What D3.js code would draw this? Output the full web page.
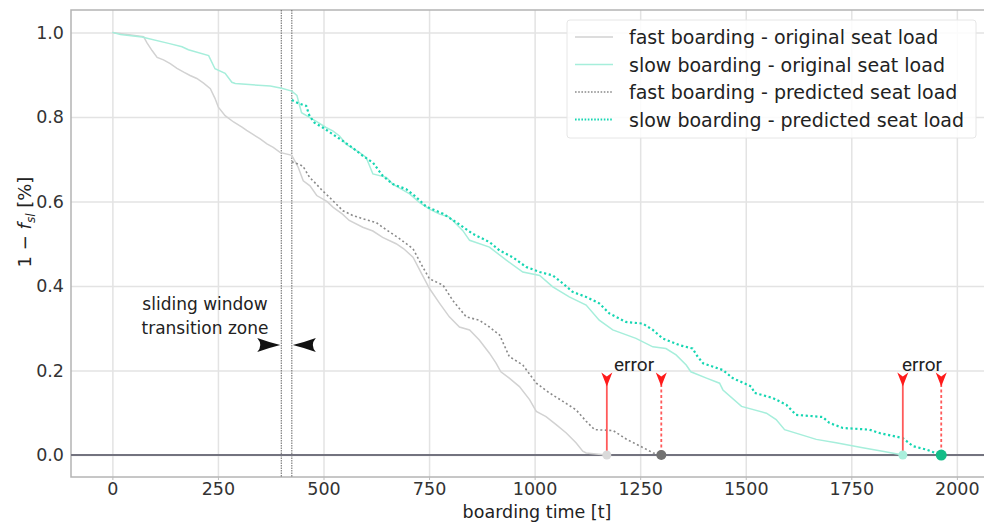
<!DOCTYPE html>
<html>
<head>
<meta charset="utf-8">
<script src="https://cdn.jsdelivr.net/npm/d3@7"></script>
<style>
  body { margin: 0; background: #fff; }
  text { font-family: "DejaVu Sans", sans-serif; }
</style>
</head>
<body>
<div id="chart"></div>
<script>
// x tick values and y tick values
const xTicks = [0, 250, 500, 750, 1000, 1250, 1500, 1750, 2000];
const yTicks = [0.0, 0.2, 0.4, 0.6, 0.8, 1.0];

// series: [boarding time, 1 - f_sl]
const fastOriginal = [
  [0, 1.0], [74, 0.99], [82, 0.975], [94, 0.957], [106, 0.941], [121, 0.935], [137, 0.926],
  [153, 0.915], [169, 0.906], [184, 0.898], [200, 0.891], [216, 0.88], [232, 0.867],
  [243, 0.844], [251, 0.823], [267, 0.803], [287, 0.788], [307, 0.776], [318, 0.768],
  [334, 0.758], [350, 0.748], [366, 0.736], [381, 0.728], [397, 0.716], [425, 0.709],
  [440, 0.681], [452, 0.649], [468, 0.637], [484, 0.614], [508, 0.6], [523, 0.586],
  [545, 0.57], [561, 0.555], [593, 0.539], [617, 0.53], [640, 0.515], [672, 0.5],
  [690, 0.488], [712, 0.468], [732, 0.43], [751, 0.394], [775, 0.359], [798, 0.327],
  [822, 0.303], [846, 0.296], [869, 0.272], [893, 0.241], [909, 0.217], [920, 0.197],
  [940, 0.182], [964, 0.162], [988, 0.131], [1004, 0.103], [1027, 0.091], [1051, 0.072],
  [1075, 0.052], [1098, 0.029], [1114, 0.009], [1122, 0.005], [1170, 0.0]
];

const slowOriginal = [
  [0, 1.0], [19, 0.995], [70, 0.989], [133, 0.974], [165, 0.966], [180, 0.959], [228, 0.945],
  [243, 0.914], [267, 0.903], [283, 0.882], [291, 0.879], [374, 0.873], [401, 0.868],
  [425, 0.861], [437, 0.851], [448, 0.81], [482, 0.79], [506, 0.775], [522, 0.767],
  [538, 0.755], [554, 0.735], [585, 0.716], [601, 0.704], [617, 0.665], [649, 0.657],
  [664, 0.641], [704, 0.618], [727, 0.598], [751, 0.582], [775, 0.57], [798, 0.563],
  [830, 0.531], [846, 0.508], [893, 0.492], [933, 0.461], [972, 0.433], [1012, 0.425],
  [1043, 0.398], [1082, 0.374], [1122, 0.355], [1153, 0.319], [1185, 0.296], [1240, 0.276],
  [1280, 0.256], [1311, 0.252], [1335, 0.237], [1359, 0.213], [1370, 0.197], [1407, 0.182],
  [1438, 0.17], [1446, 0.154], [1490, 0.115], [1549, 0.099], [1572, 0.084], [1592, 0.06],
  [1667, 0.037], [1714, 0.029], [1777, 0.017], [1824, 0.009], [1872, 0.0]
];

const fastPredicted = [
  [425, 0.694], [451, 0.684], [467, 0.657], [483, 0.641], [498, 0.625], [514, 0.61],
  [530, 0.594], [546, 0.578], [569, 0.567], [593, 0.559], [625, 0.55], [640, 0.539],
  [680, 0.512], [712, 0.488], [735, 0.445], [751, 0.417], [783, 0.402], [806, 0.366],
  [838, 0.327], [869, 0.319], [893, 0.303], [917, 0.284], [940, 0.233], [972, 0.213],
  [1004, 0.17], [1035, 0.147], [1067, 0.127], [1098, 0.107], [1122, 0.08], [1142, 0.06],
  [1186, 0.058], [1218, 0.037], [1250, 0.021], [1281, 0.005], [1300, 0.0]
];

const slowPredicted = [
  [425, 0.84], [439, 0.833], [459, 0.826], [467, 0.802], [479, 0.786], [498, 0.775],
  [522, 0.759], [546, 0.743], [569, 0.727], [593, 0.708], [617, 0.692], [640, 0.661],
  [664, 0.641], [696, 0.629], [720, 0.61], [743, 0.588], [783, 0.571], [814, 0.551],
  [854, 0.523], [893, 0.504], [917, 0.484], [948, 0.468], [980, 0.445], [1012, 0.433],
  [1043, 0.425], [1067, 0.406], [1090, 0.386], [1122, 0.374], [1153, 0.359], [1177, 0.335],
  [1216, 0.315], [1256, 0.311], [1280, 0.296], [1303, 0.276], [1343, 0.26], [1374, 0.252],
  [1386, 0.233], [1399, 0.217], [1446, 0.201], [1469, 0.182], [1513, 0.162], [1521, 0.147],
  [1564, 0.135], [1596, 0.119], [1619, 0.095], [1682, 0.09], [1698, 0.076], [1730, 0.064],
  [1793, 0.06], [1817, 0.052], [1872, 0.04], [1896, 0.021], [1927, 0.013], [1963, 0.0]
];

// end times of the four curves (original vs predicted)
const errorPairs = [
  { original: 1171, predicted: 1300 },
  { original: 1872, predicted: 1963 }
];
const windowBounds = [400, 425];

const legendItems = [
  "fast boarding - original seat load",
  "slow boarding - original seat load",
  "fast boarding - predicted seat load",
  "slow boarding - predicted seat load"
];

// --- SVG setup ---
const width = 984, height = 525;
const plot = { left: 71, top: 10, right: 1005, bottom: 477 };

const svg = d3.select("#chart")
  .append("svg")
  .attr("width", width)
  .attr("height", height);

const x = d3.scaleLinear().domain([-98, 2114]).range([plot.left, plot.right]);
const y = d3.scaleLinear().domain([-0.052, 1.053]).range([plot.bottom, plot.top]);

svg.append("defs").append("clipPath").attr("id", "clip")
  .append("rect")
  .attr("x", plot.left).attr("y", plot.top)
  .attr("width", plot.right - plot.left).attr("height", plot.bottom - plot.top);

// --- GRID ---
svg.append("g")
  .attr("transform", `translate(0,${plot.bottom})`)
  .call(d3.axisBottom(x).tickValues(xTicks).tickSize(-(plot.bottom - plot.top)).tickFormat(""))
  .call(g => g.select(".domain").remove())
  .selectAll("line").attr("stroke", "#e3e3e3").attr("stroke-width", 1.5);

svg.append("g")
  .attr("transform", `translate(${plot.left},0)`)
  .call(d3.axisLeft(y).tickValues(yTicks).tickSize(-(plot.right - plot.left)).tickFormat(""))
  .call(g => g.select(".domain").remove())
  .selectAll("line").attr("stroke", "#e3e3e3").attr("stroke-width", 1.5);

// --- FRAME ---
svg.append("rect")
  .attr("x", plot.left).attr("y", plot.top)
  .attr("width", plot.right - plot.left).attr("height", plot.bottom - plot.top)
  .attr("fill", "none").attr("stroke", "#b4b4b4").attr("stroke-width", 1.5);

// --- AXES ---
svg.append("g")
  .attr("transform", `translate(0,${plot.bottom})`)
  .call(d3.axisBottom(x).tickValues(xTicks).tickSize(3).tickPadding(3).tickFormat(d3.format("d")))
  .call(g => g.select(".domain").remove())
  .call(g => g.selectAll("line").attr("stroke", "#bbb"))
  .selectAll("text")
  .style("font-size", "17.5px")
  .style("fill", "#333");

svg.append("g")
  .attr("transform", `translate(${plot.left},0)`)
  .call(d3.axisLeft(y).tickValues(yTicks).tickSize(0).tickPadding(7).tickFormat(d3.format(".1f")))
  .call(g => g.select(".domain").remove())
  .selectAll("text")
  .style("font-size", "17.5px")
  .style("fill", "#333");

// --- AXIS LABELS ---
svg.append("text")
  .attr("x", 537)
  .attr("y", 518)
  .attr("text-anchor", "middle")
  .style("font-size", "17.5px")
  .style("fill", "#222")
  .text("boarding time [t]");

const yLabel = svg.append("text")
  .attr("transform", "translate(31,222) rotate(-90)")
  .attr("text-anchor", "middle")
  .style("font-size", "18px")
  .style("fill", "#222");
yLabel.append("tspan").text("1 − ");
yLabel.append("tspan").style("font-style", "italic").text("f");
yLabel.append("tspan").style("font-style", "italic").style("font-size", "12px")
  .attr("dy", 4).text("sl");
yLabel.append("tspan").attr("dy", -4).text(" [%]");

// --- PLOT CONTENT ---
const body = svg.append("g").attr("clip-path", "url(#clip)");

// sliding window boundaries
body.selectAll(".window")
  .data(windowBounds)
  .enter()
  .append("line")
  .attr("x1", d => x(d)).attr("x2", d => x(d))
  .attr("y1", plot.top).attr("y2", plot.bottom)
  .attr("stroke", "#666")
  .attr("stroke-width", 1)
  .attr("stroke-dasharray", "1.5,1");

// zero line
body.append("line")
  .attr("x1", plot.left).attr("x2", plot.right)
  .attr("y1", y(0)).attr("y2", y(0))
  .attr("stroke", "#73737f")
  .attr("stroke-width", 2);

const line = d3.line()
  .x(d => x(d[0]))
  .y(d => y(d[1]));

const series = [
  { data: fastOriginal, color: "#d2d2d2", width: 1.5, dash: null },
  { data: slowOriginal, color: "#a6eedb", width: 1.5, dash: null },
  { data: fastPredicted, color: "#8a8a8a", width: 1.6, dash: "2,2.5" },
  { data: slowPredicted, color: "#16d6b2", width: 2.2, dash: "2.2,2.6" }
];

body.selectAll(".series")
  .data(series)
  .enter()
  .append("path")
  .attr("d", d => line(d.data))
  .attr("fill", "none")
  .attr("stroke", d => d.color)
  .attr("stroke-width", d => d.width)
  .attr("stroke-dasharray", d => d.dash);

// --- ERROR MARKERS ---
const endPoints = [
  { t: errorPairs[0].original, color: "#dadada", r: 4.5 },
  { t: errorPairs[0].predicted, color: "#727272", r: 5 },
  { t: errorPairs[1].original, color: "#a9efdc", r: 4.5 },
  { t: errorPairs[1].predicted, color: "#14bd88", r: 5.5 }
];

const arrowTop = y(0.2) + 2;
const redHead = "M-5.5,0 L0,4 L5.5,0 L0,14 Z";

errorPairs.forEach(p => {
  [p.original, p.predicted].forEach((t, i) => {
    body.append("line")
      .attr("x1", x(t)).attr("x2", x(t))
      .attr("y1", arrowTop + 6).attr("y2", y(0))
      .attr("stroke", "#ff5a5a")
      .attr("stroke-width", 1.8)
      .attr("stroke-dasharray", i === 0 ? null : "3,2.5");
    body.append("path")
      .attr("d", redHead)
      .attr("transform", `translate(${x(t)},${arrowTop})`)
      .attr("fill", "#ff1a1a");
  });
  svg.append("text")
    .attr("x", (x(p.original) + x(p.predicted)) / 2)
    .attr("y", arrowTop - 1)
    .attr("text-anchor", "middle")
    .style("font-family", "Roboto, sans-serif")
    .style("font-size", "19px")
    .style("fill", "#222")
    .text("error");
});

body.selectAll(".endpoint")
  .data(endPoints)
  .enter()
  .append("circle")
  .attr("cx", d => x(d.t))
  .attr("cy", y(0))
  .attr("r", d => d.r)
  .attr("fill", d => d.color);

// --- SLIDING WINDOW ANNOTATION ---
const annot = svg.append("g")
  .style("font-family", "Roboto, sans-serif")
  .style("font-size", "17px")
  .style("fill", "#222")
  .attr("text-anchor", "middle");
annot.append("text").attr("x", 205).attr("y", 310).text("sliding window");
annot.append("text").attr("x", 205).attr("y", 334).text("transition zone");

const blackHead = "M0,0 Q-12,-3 -23,-7 Q-17,0 -23,7 Q-12,3 0,0 Z";
const arrowY = 345;
svg.append("path")
  .attr("d", blackHead)
  .attr("transform", `translate(${x(windowBounds[0]) - 1},${arrowY})`)
  .attr("fill", "#111");
svg.append("path")
  .attr("d", blackHead)
  .attr("transform", `translate(${x(windowBounds[1]) + 1},${arrowY}) scale(-1,1)`)
  .attr("fill", "#111");

// --- LEGEND ---
const legend = svg.append("g");
legend.append("rect")
  .attr("x", 567).attr("y", 20)
  .attr("width", 409).attr("height", 118)
  .attr("rx", 3)
  .attr("fill", "rgba(255,255,255,0.85)")
  .attr("stroke", "#e6e6e6");

legendItems.forEach((label, i) => {
  const ly = 37 + i * 27.5;
  legend.append("line")
    .attr("x1", 575).attr("x2", 613)
    .attr("y1", ly).attr("y2", ly)
    .attr("stroke", series[i].color)
    .attr("stroke-width", i === 3 ? 1.8 : 1.5)
    .attr("stroke-dasharray", series[i].dash ? "1.6,1.6" : null);
  legend.append("text")
    .attr("x", 629)
    .attr("y", ly + 7)
    .style("font-size", "19px")
    .style("fill", "#222")
    .text(label);
});
</script>
</body>
</html>
